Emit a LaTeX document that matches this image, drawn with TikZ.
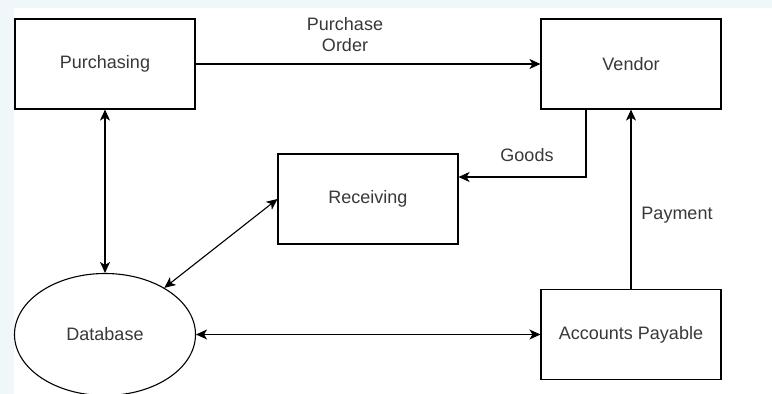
\documentclass[tikz,border=0pt]{standalone}
\usepackage{fontspec}
\setmainfont{Liberation Sans}
\usetikzlibrary{arrows.meta, positioning, shapes.geometric}
\definecolor{bgBlue}{RGB}{239,247,251}
\definecolor{textGray}{gray}{0.22}

\begin{document}
\begin{tikzpicture}[x=1pt, y=1pt, >={Stealth[length=11pt, width=10pt, inset=3pt]},
    box/.style={draw, line width=1.1pt, minimum width=180pt, minimum height=90pt, text=textGray, font=\fontsize{18}{21}\selectfont},
    flow/.style={line width=1.1pt},
    lbl/.style={text=textGray, font=\fontsize{18}{21}\selectfont, align=center}]
    \useasboundingbox (0,0) rectangle (772,394);
    % Background
    \fill[bgBlue] (0,0) rectangle (772,394);
    \fill[white] (14,0) rectangle (772,386);

    \node[box] (purch) at (105, 330) {Purchasing};
    \node[box] (vendor) at (631, 330) {Vendor};
    \node[box] (recv) at (368, 195) {Receiving};
    \node[box] (ap) at (631, 59.5) {Accounts Payable};
    \node[box, ellipse, minimum width=181pt, minimum height=122pt] (db) at (105, 59.5) {Database};

    % Flows
    \draw[->, flow] (purch) -- (vendor);
    \node[lbl] at (345, 359) {Purchase\\Order};
    \draw[<->, flow] (purch) -- (db);
    \draw[<->, flow] (db) -- (recv.west);
    \draw[->, flow] ([xshift=-45pt]vendor.south) |- ([yshift=22pt]recv.east);
    \node[lbl] at (527, 239) {Goods};
    \draw[->, flow] (ap) -- (vendor);
    \node[lbl] at (677, 179) {Payment};
    \draw[<->, flow] (db) -- (ap);
\end{tikzpicture}
\end{document}
